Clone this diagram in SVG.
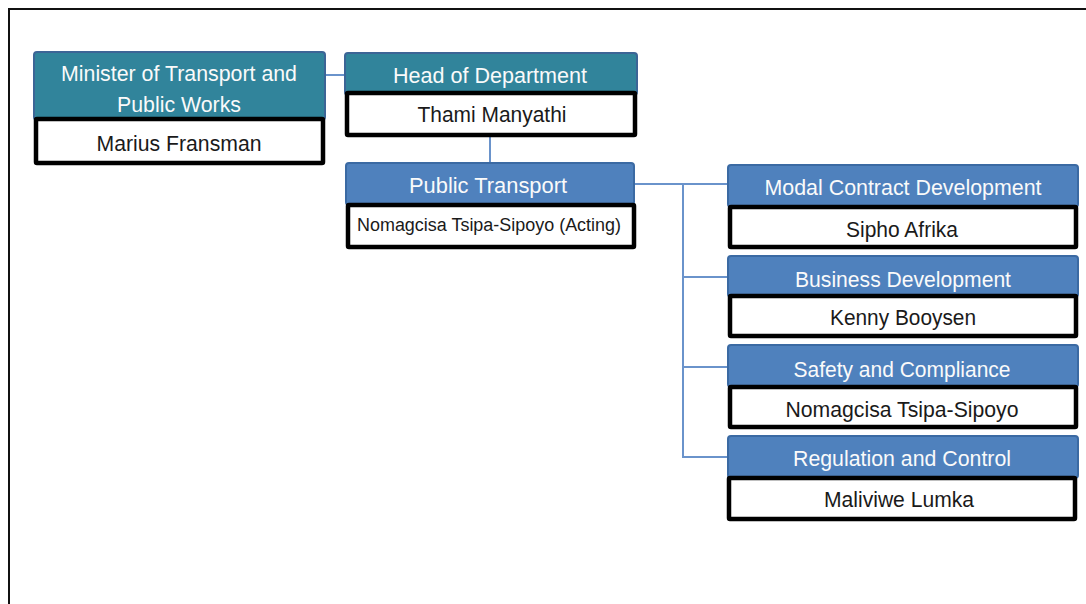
<svg xmlns="http://www.w3.org/2000/svg" width="1086" height="604" viewBox="0 0 1086 604">
  <style>
    .hd-teal { fill: #31849B; stroke: #3C6596; stroke-width: 2; }
    .hd-blue { fill: #4F81BD; stroke: #3B6AA3; stroke-width: 2; }
    .name { fill: #FFFFFF; stroke: #000000; stroke-width: 4.5; }
    .ht { font-family: "Liberation Sans", Arial, sans-serif; font-size: 22px; fill: #FAFAFA; text-anchor: middle; }
    .nt { font-family: "Liberation Sans", Arial, sans-serif; font-size: 22px; fill: #1A1A1A; text-anchor: middle; }
    .nt-s { font-family: "Liberation Sans", Arial, sans-serif; font-size: 18px; fill: #1A1A1A; text-anchor: middle; }
    .conn { fill: none; stroke: #6A93CB; stroke-width: 2; }
    .frame { fill: none; stroke: #111111; stroke-width: 2; }
  </style>

  <rect x="0" y="0" width="1086" height="604" fill="#FFFFFF"/>
  <path class="frame" d="M9 604 V9 H1086"/>

  <g id="connectors">
    <path class="conn" d="M325 75 H345"/>
    <path class="conn" d="M490 137 V163"/>
    <path class="conn" d="M634 184 H727"/>
    <path class="conn" d="M683 184 V457 H727"/>
    <path class="conn" d="M683 277 H727"/>
    <path class="conn" d="M683 367 H727"/>
  </g>

  <g id="minister">
    <rect class="hd-teal" x="34" y="52" width="291" height="68" rx="3"/>
    <rect class="name" x="36" y="119" width="287" height="44" rx="1"/>
    <text class="ht" x="179" y="81" textLength="236" lengthAdjust="spacingAndGlyphs">Minister of Transport and</text>
    <text class="ht" x="179" y="112" textLength="124" lengthAdjust="spacingAndGlyphs">Public Works</text>
    <text class="nt" x="179" y="151" textLength="165" lengthAdjust="spacingAndGlyphs">Marius Fransman</text>
  </g>

  <g id="head-of-department">
    <rect class="hd-teal" x="345" y="53" width="292" height="42" rx="3"/>
    <rect class="name" x="347" y="93" width="288" height="42" rx="1"/>
    <text class="ht" x="490" y="83" textLength="194" lengthAdjust="spacingAndGlyphs">Head of Department</text>
    <text class="nt" x="492" y="122" textLength="149" lengthAdjust="spacingAndGlyphs">Thami Manyathi</text>
  </g>

  <g id="public-transport">
    <rect class="hd-blue" x="346" y="163" width="288" height="42" rx="3"/>
    <rect class="name" x="348" y="205" width="286" height="42" rx="1"/>
    <text class="ht" x="488" y="193" textLength="158" lengthAdjust="spacingAndGlyphs">Public Transport</text>
    <text class="nt-s" x="489" y="231" textLength="264" lengthAdjust="spacingAndGlyphs">Nomagcisa Tsipa-Sipoyo (Acting)</text>
  </g>

  <g id="modal-contract-development">
    <rect class="hd-blue" x="728" y="165" width="350" height="42" rx="3"/>
    <rect class="name" x="730" y="207" width="346" height="40" rx="1"/>
    <text class="ht" x="903" y="195" textLength="277" lengthAdjust="spacingAndGlyphs">Modal Contract Development</text>
    <text class="nt" x="902" y="237" textLength="112" lengthAdjust="spacingAndGlyphs">Sipho Afrika</text>
  </g>

  <g id="business-development">
    <rect class="hd-blue" x="728" y="256" width="350" height="41" rx="3"/>
    <rect class="name" x="730" y="296" width="346" height="40" rx="1"/>
    <text class="ht" x="903" y="287" textLength="216" lengthAdjust="spacingAndGlyphs">Business Development</text>
    <text class="nt" x="903" y="325" textLength="146" lengthAdjust="spacingAndGlyphs">Kenny Booysen</text>
  </g>

  <g id="safety-and-compliance">
    <rect class="hd-blue" x="728" y="345" width="350" height="42" rx="3"/>
    <rect class="name" x="730" y="387" width="346" height="40" rx="1"/>
    <text class="ht" x="902" y="377" textLength="217" lengthAdjust="spacingAndGlyphs">Safety and Compliance</text>
    <text class="nt" x="902" y="417" textLength="233" lengthAdjust="spacingAndGlyphs">Nomagcisa Tsipa-Sipoyo</text>
  </g>

  <g id="regulation-and-control">
    <rect class="hd-blue" x="728" y="436" width="350" height="42" rx="3"/>
    <rect class="name" x="729" y="478" width="346" height="41" rx="1"/>
    <text class="ht" x="902" y="466" textLength="218" lengthAdjust="spacingAndGlyphs">Regulation and Control</text>
    <text class="nt" x="899" y="507" textLength="150" lengthAdjust="spacingAndGlyphs">Maliviwe Lumka</text>
  </g>
</svg>
